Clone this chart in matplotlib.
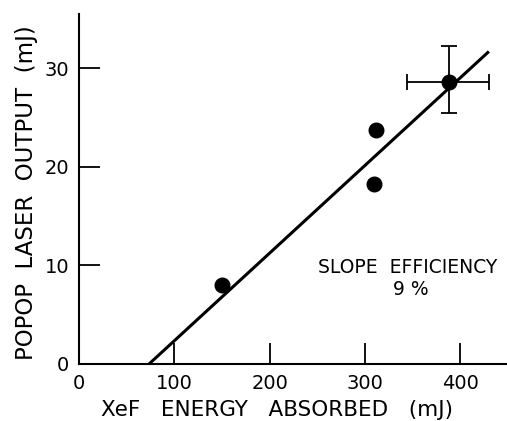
import matplotlib
matplotlib.use("Agg")
import matplotlib.pyplot as plt

# Data
energy_absorbed = [150, 312, 310, 388]      # XeF energy absorbed (mJ)
laser_output = [8.0, 23.7, 18.3, 28.6]       # POPOP laser output (mJ)
err_point_x = [388]
err_point_y = [28.6]
err_x_lo = [44]
err_x_hi = [42]
err_y_lo = [3.1]
err_y_hi = [3.7]
fit_x = [73.5, 430]
fit_y = [0.0, 31.7]
x_ticks = [0, 100, 200, 300, 400]
y_ticks = [0, 10, 20, 30]

plt.rcParams['font.family'] = ['DejaVu Sans']

fig = plt.figure(figsize=(5.07, 4.21), dpi=100)
ax = fig.add_axes([0.1558, 0.1354, 0.8442, 0.8313])

ax.plot(fit_x, fit_y, color='black', lw=2.2, solid_capstyle='butt')
ax.errorbar(err_point_x, err_point_y,
            xerr=[err_x_lo, err_x_hi], yerr=[err_y_lo, err_y_hi],
            fmt='none', ecolor='black', elinewidth=1.3, capsize=6, capthick=1.3)
ax.plot(energy_absorbed, laser_output, 'o', color='black', markersize=10.5)

ax.set_xlim(0, 449)
ax.set_ylim(0, 35.5)
ax.set_xticks(x_ticks)
ax.set_yticks(y_ticks)
ax.tick_params(direction='in', length=15, width=1.3, labelsize=14, pad=7)
for s in ['top', 'right']:
    ax.spines[s].set_visible(False)
for s in ['left', 'bottom']:
    ax.spines[s].set_linewidth(1.5)

ax.set_xlabel('XeF   ENERGY   ABSORBED   (mJ)', fontsize=15.5)
ax.set_ylabel('POPOP  LASER  OUTPUT  (mJ)', fontsize=16.5)
ax.xaxis.set_label_coords(0.463, -0.148)
ax.yaxis.set_label_coords(-0.095, 0.491)
ax.xaxis.label.set_va('baseline')

ax.text(0.558, 0.277, 'SLOPE  EFFICIENCY', transform=ax.transAxes,
        fontsize=13.5, ha='left', va='center')
ax.text(0.776, 0.214, '9 %', transform=ax.transAxes,
        fontsize=13.5, ha='center', va='center')

fig.savefig('out.png', dpi=100)
